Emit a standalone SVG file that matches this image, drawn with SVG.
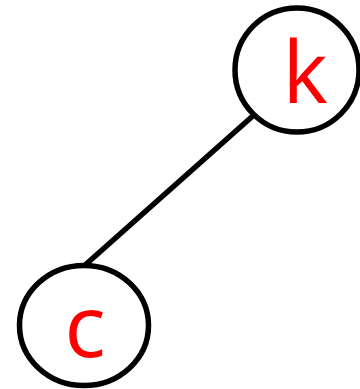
<svg xmlns="http://www.w3.org/2000/svg" width="360" height="389" viewBox="0 0 360 389">
<style>
.node{fill:#ffffff;stroke:#000000;stroke-width:5.5}
.edge{stroke:#000000;stroke-width:5.5;fill:none}
.lbl{font-family:"Open Sans","Noto Sans",sans-serif;font-size:86px;fill:#ff0000;text-anchor:middle}
</style>
<rect width="360" height="389" fill="#ffffff"/>
<g id="edges">
<line class="edge" x1="255" y1="114" x2="84" y2="266"/>
</g>
<g id="node-k">
<circle class="node" cx="297" cy="70" r="62"/>
<text class="lbl" x="305" y="103">k</text>
</g>
<g id="node-c">
<ellipse class="node" cx="84" cy="325.5" rx="64.5" ry="60"/>
<text class="lbl" x="85" y="357">c</text>
</g>
</svg>
